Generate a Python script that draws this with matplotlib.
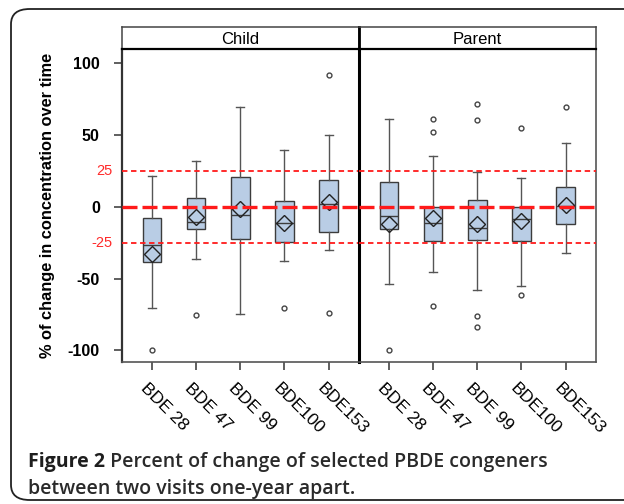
import matplotlib
matplotlib.use("Agg")
import matplotlib.pyplot as plt
import matplotlib.transforms as mtransforms
from matplotlib.patches import FancyBboxPatch

plt.rcParams['font.family'] = ['Liberation Sans', 'DejaVu Sans']

labels = ["BDE 28", "BDE 47", "BDE 99", "BDE100", "BDE153"]
panels = ["Child", "Parent"]

# box summaries: whisker low, Q1, median, Q3, whisker high, mean
child_whislo = [-70.7, -36.5, -74.9, -37.8, -30.2]
child_q1 = [-38.3, -15.4, -22.8, -24.4, -17.5]
child_med = [-26.7, -10.5, -5.9, -11.7, 1.7]
child_q3 = [-7.8, 6.1, 20.5, 3.6, 18.4]
child_whishi = [21.4, 31.4, 69.3, 39.2, 49.4]
child_mean = [-33.0, -7.3, -2.0, -11.5, 3.1]
child_fliers = [[-99.5], [-75.6], [], [-70.7], [91.1, -73.7]]

parent_whislo = [-54.0, -45.5, -58.2, -55.4, -32.5]
parent_q1 = [-15.4, -23.8, -23.3, -23.7, -12.2]
parent_med = [-6.6, -11.5, -15.2, -8.7, 0.1]
parent_q3 = [16.8, 0.0, 4.3, 0.0, 13.5]
parent_whishi = [60.8, 35.1, 23.7, 19.8, 44.3]
parent_mean = [-12.2, -8.2, -11.9, -10.3, 1.3]
parent_fliers = [[-99.5], [60.8, 52.0, -69.3], [71.4, 60.3, -76.3, -83.7], [54.5, -61.2], [68.9]]

ref_lines = [-25, 25]
yticks = [-100, -50, 0, 50, 100]

W, H = 624, 504
fig = plt.figure(figsize=(W / 100, H / 100), dpi=100)


def fx(px):
    return px / W


def fy(py):
    return 1 - py / H


# rounded frame around the figure
frame = FancyBboxPatch((fx(11), fy(500)), fx(700), fy(9) - fy(500),
                       boxstyle="round,pad=0,rounding_size=0.03",
                       transform=fig.transFigure, fill=False,
                       edgecolor="#222222", linewidth=1.3)
fig.patches.append(frame)

left, mid, right = 122, 359, 596
top, bottom, strip_top = 49.3, 362.3, 27.3

data = [
    (child_whislo, child_q1, child_med, child_q3, child_whishi, child_mean, child_fliers),
    (parent_whislo, parent_q1, parent_med, parent_q3, parent_whishi, parent_mean, parent_fliers),
]

box_color = "#b9cde5"
edge = "#3c3c3c"
# shift for the slanted category labels (pixels at dpi 100)
lab_off = mtransforms.ScaledTranslation(-9 / 100, -24 / 100, fig.dpi_scale_trans)

axes = []
for i, (name, d) in enumerate(zip(panels, data)):
    x0 = left if i == 0 else mid
    x1 = mid if i == 0 else right
    ax = fig.add_axes([fx(x0), fy(bottom), fx(x1 - x0), fy(top) - fy(bottom)])
    axes.append(ax)
    stats = []
    for k in range(len(labels)):
        stats.append(dict(whislo=d[0][k], q1=d[1][k], med=d[2][k], q3=d[3][k],
                          whishi=d[4][k], mean=d[5][k], fliers=d[6][k], label=labels[k]))
    ax.bxp(stats, positions=range(1, 6), widths=0.42, patch_artist=True,
           showmeans=True,
           boxprops=dict(facecolor=box_color, edgecolor=edge, linewidth=1.0),
           medianprops=dict(color=edge, linewidth=1.0),
           whiskerprops=dict(color="#555555", linewidth=1.0),
           capprops=dict(color="#555555", linewidth=1.0),
           capwidths=0.18,
           meanprops=dict(marker="D", markerfacecolor="none", markeredgecolor="#222222",
                          markersize=8.5, markeredgewidth=1.0),
           flierprops=dict(marker="o", markerfacecolor="none", markeredgecolor="#444444",
                           markersize=3.5, markeredgewidth=1.0),
           zorder=2)
    ax.axhline(0, color="#ff1a1a", linestyle=(0, (4.5, 1.5)), linewidth=2.4, zorder=3)
    for r in ref_lines:
        ax.axhline(r, color="#ff1a1a", linestyle=(0, (3, 2)), linewidth=1.3, zorder=3)
    ax.set_xlim(0.32, 5.69)
    ax.set_ylim(-108.2, 109.2)
    ax.set_xticks(range(1, 6))
    ax.set_xticklabels([])
    for k, lab in enumerate(labels):
        ax.text(k + 1, 0, lab, transform=ax.get_xaxis_transform() + lab_off,
                rotation=-45, rotation_mode="anchor", ha="left", va="center",
                fontsize=12.5, clip_on=False)
    ax.tick_params(axis="x", length=6, width=1.2, color="#444444")
    for s in ax.spines.values():
        s.set_color("#555555")
        s.set_linewidth(1.2)
    if i == 0:
        ax.set_yticks(yticks)
        ax.set_yticklabels([str(t) for t in yticks], fontsize=11.5, fontweight="bold")
        ax.tick_params(axis="y", length=6, width=1.2, color="#444444", pad=10)
        ax.spines["left"].set_linewidth(1.6)
        ax.spines["left"].set_color("#333333")
        ax.set_ylabel("% of change in concentration over time", fontsize=11.8,
                      fontweight="bold", labelpad=9)
        for r in ref_lines:
            ax.text(-0.038, r, str(r), transform=ax.get_yaxis_transform(),
                    color="#ff2a2a", fontsize=10.5, ha="right", va="center")
    else:
        ax.set_yticks([])
        ax.spines["left"].set_color("black")
        ax.spines["left"].set_linewidth(2.2)
    ax.spines["top"].set_color("black")

    # strip with the panel name
    sax = fig.add_axes([fx(x0), fy(top), fx(x1 - x0), fy(strip_top) - fy(top)])
    sax.set_xticks([])
    sax.set_yticks([])
    for s in sax.spines.values():
        s.set_color("#444444")
        s.set_linewidth(1.1)
    sax.spines["bottom"].set_color("black")
    sax.spines["bottom"].set_linewidth(1.6)
    if i == 1:
        sax.spines["left"].set_color("black")
        sax.spines["left"].set_linewidth(2.0)
    sax.text(0.5, 0.45, name, ha="center", va="center", fontsize=12,
             transform=sax.transAxes)

# caption
cap_font = ['Open Sans', 'DejaVu Sans']
t1 = fig.text(fx(28), fy(467.5), "Figure 2", fontsize=14, fontweight="bold",
              family=cap_font, color="#1e1e1e", va="baseline")
axes[0].annotate(" Percent of change of selected PBDE congeners",
                 xy=(1, 0), xycoords=t1, va="bottom", ha="left",
                 fontsize=14, fontweight="semibold", family=cap_font,
                 color="#2a2a2a")
fig.text(fx(28), fy(494), "between two visits one-year apart.", fontsize=14,
         fontweight="semibold", family=cap_font, color="#2a2a2a", va="baseline")

fig.savefig("out.png", dpi=100)
